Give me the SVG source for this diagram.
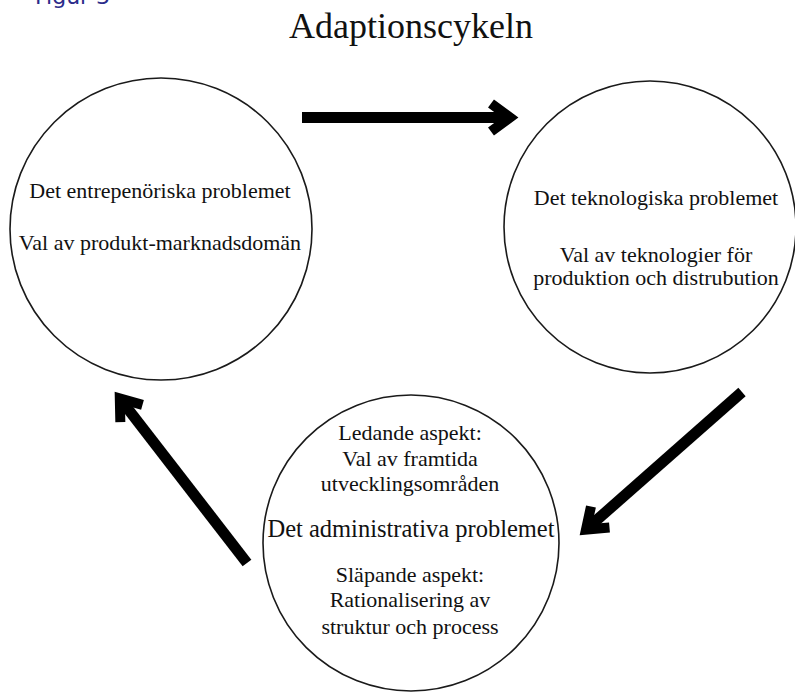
<svg xmlns="http://www.w3.org/2000/svg" xmlns:xlink="http://www.w3.org/1999/xlink" width="795" height="693" viewBox="0 0 795 693">
  <style>
    .node { fill: #ffffff; stroke: #1a1a1a; stroke-width: 1.6; }
    .lbl { font-family: "Liberation Serif", "Times New Roman", serif; font-size: 22px; fill: #111111; text-anchor: middle; }
    .big { font-size: 24.5px; }
    .title { font-family: "Liberation Serif", "Times New Roman", serif; font-size: 36px; fill: #111111; text-anchor: middle; }
    .fig { font-family: "DejaVu Sans", Verdana, sans-serif; font-size: 22px; fill: #2b2b8a; }
    .shaft, .head { fill: none; stroke: #000000; stroke-width: 11; }
    .head { stroke-width: 10; stroke-linejoin: miter; stroke-miterlimit: 10; }
  </style>
  <defs>
    <g id="arrow">
      <line class="shaft" x1="0" y1="0" x2="206" y2="0"/>
      <polyline class="head" points="189,-14 208,0 189,14"/>
    </g>
  </defs>
  <rect width="795" height="693" fill="#ffffff"/>
  <text class="fig" x="35" y="4">Figur 3</text>
  <text class="title" x="411" y="38">Adaptionscykeln</text>

  <g id="connectors">
    <use xlink:href="#arrow" transform="translate(302,117.5)"/>
    <use xlink:href="#arrow" transform="translate(742,392) rotate(138.6)"/>
    <use xlink:href="#arrow" transform="translate(247,563) rotate(-127.7)"/>
  </g>

  <g id="entrepreneurial">
    <circle class="node" cx="161" cy="229" r="151"/>
    <text class="lbl" x="160" y="198">Det entrepenöriska problemet</text>
    <text class="lbl" x="160" y="250">Val av produkt-marknadsdomän</text>
  </g>

  <g id="technological">
    <circle class="node" cx="650" cy="227" r="146"/>
    <text class="lbl" x="656" y="205">Det teknologiska problemet</text>
    <text class="lbl" x="656" y="262">Val av teknologier för</text>
    <text class="lbl" x="656" y="285">produktion och distrubution</text>
  </g>

  <g id="administrative">
    <circle class="node" cx="411" cy="543" r="148"/>
    <text class="lbl" x="410" y="440">Ledande aspekt:</text>
    <text class="lbl" x="410" y="466">Val av framtida</text>
    <text class="lbl" x="410" y="491">utvecklingsområden</text>
    <text class="lbl big" x="411" y="537">Det administrativa problemet</text>
    <text class="lbl" x="410" y="582">Släpande aspekt:</text>
    <text class="lbl" x="410" y="607">Rationalisering av</text>
    <text class="lbl" x="410" y="634">struktur och process</text>
  </g>
</svg>
